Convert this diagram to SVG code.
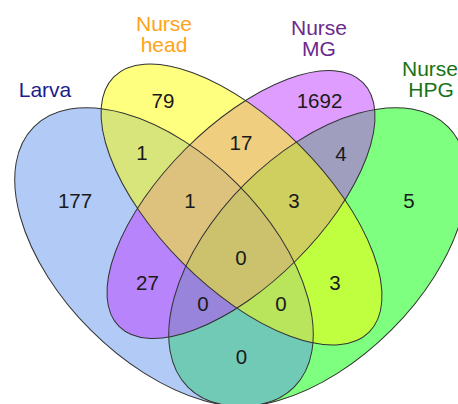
<svg xmlns="http://www.w3.org/2000/svg" xmlns:xlink="http://www.w3.org/1999/xlink" width="458" height="404" viewBox="0 0 458 404">
  <style>
    .fill { fill-opacity: 0.5; stroke: none; }
    .outline { fill: none; stroke: #333; stroke-width: 1; }
    .title { font-family: "Liberation Sans", Arial, sans-serif; font-size: 21px; text-anchor: middle; }
    .num { font-family: "Liberation Sans", Arial, sans-serif; font-size: 20.5px; text-anchor: middle; fill: #1a1a1a; }
  </style>
  <defs>
    <ellipse id="e-hpg" cx="0" cy="0" rx="184" ry="103.5" transform="translate(318,257) rotate(-45)"/>
    <ellipse id="e-larva" cx="0" cy="0" rx="184" ry="103.5" transform="translate(164,257) rotate(45)"/>
    <ellipse id="e-mg" cx="0" cy="0" rx="172.5" ry="78.5" transform="translate(241,204.5) rotate(-45)"/>
    <ellipse id="e-head" cx="0" cy="0" rx="180.5" ry="83" transform="translate(241.5,204.5) rotate(45)"/>
  </defs>
  <rect width="458" height="404" fill="#fff"/>
  <g id="nurse-hpg">
    <use xlink:href="#e-hpg" class="fill" fill="#00FF00"/>
    <text class="title" fill="#187318" x="430" y="76">Nurse</text>
    <text class="title" fill="#187318" x="431" y="97">HPG</text>
  </g>
  <g id="larva">
    <use xlink:href="#e-larva" class="fill" fill="#6495ED"/>
    <text class="title" fill="#1c1c8c" x="45" y="97">Larva</text>
  </g>
  <g id="nurse-mg">
    <use xlink:href="#e-mg" class="fill" fill="#BF3EFF"/>
    <text class="title" fill="#6b2a8c" x="319" y="35">Nurse</text>
    <text class="title" fill="#6b2a8c" x="319" y="56">MG</text>
  </g>
  <g id="nurse-head">
    <use xlink:href="#e-head" class="fill" fill="#FFFF00"/>
    <text class="title" fill="#FFA31A" x="164" y="31">Nurse</text>
    <text class="title" fill="#FFA31A" x="164" y="52">head</text>
  </g>
  <g id="outlines">
    <use xlink:href="#e-hpg" class="outline"/>
    <use xlink:href="#e-larva" class="outline"/>
    <use xlink:href="#e-mg" class="outline"/>
    <use xlink:href="#e-head" class="outline"/>
  </g>
  <g id="counts">
    <text class="num" x="163" y="108">79</text>
    <text class="num" x="319.5" y="108">1692</text>
    <text class="num" x="75" y="208">177</text>
    <text class="num" x="409" y="208">5</text>
    <text class="num" x="142" y="160">1</text>
    <text class="num" x="241" y="150">17</text>
    <text class="num" x="341" y="161">4</text>
    <text class="num" x="190" y="208">1</text>
    <text class="num" x="294" y="208">3</text>
    <text class="num" x="241" y="265">0</text>
    <text class="num" x="147.5" y="290">27</text>
    <text class="num" x="335" y="290">3</text>
    <text class="num" x="203" y="311">0</text>
    <text class="num" x="281" y="311">0</text>
    <text class="num" x="241.5" y="364">0</text>
  </g>
</svg>
